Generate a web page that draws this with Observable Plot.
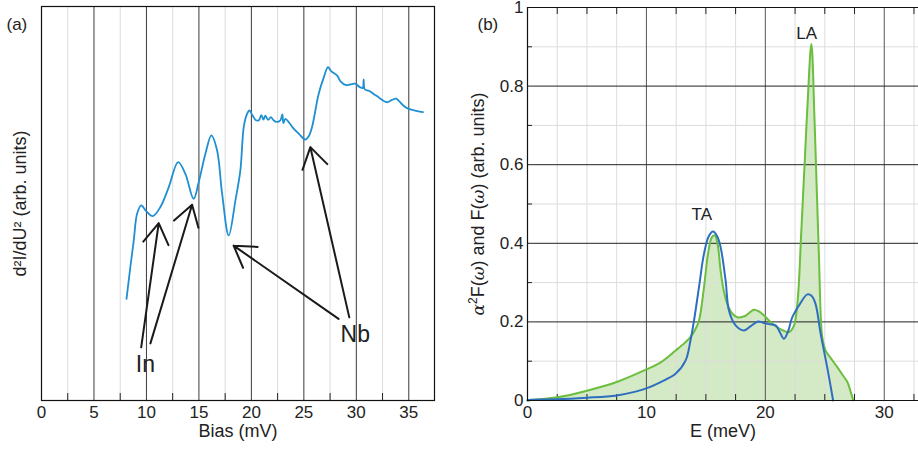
<!DOCTYPE html>
<html><head><meta charset="utf-8">
<script src="https://cdn.jsdelivr.net/npm/d3@7"></script>
<script src="https://cdn.jsdelivr.net/npm/@observablehq/plot@0.6"></script>
<style>
body{margin:0;background:#fff;}
#wrap{position:relative;width:918px;height:451px;overflow:hidden;background:#fff;}
#a,#b{position:absolute;top:0;}
#a{left:0;} #b{left:460px;}
</style></head><body><div id="wrap"><div id="a"></div><div id="b"></div></div>
<script>
// ---------- Panel (a): tunneling spectrum ----------
const biasV = [8.10, 8.45, 8.79, 9.11, 9.50, 10.0, 10.60, 11.33, 12.12, 13.02, 13.71, 14.50, 14.98, 15.62, 16.19, 16.73, 17.21, 17.84, 18.48, 18.95, 19.27, 19.55, 19.81, 20.1, 20.4, 20.70, 20.95, 21.15, 21.33, 21.6, 21.85, 22.12, 22.4, 22.76, 22.95, 23.05, 23.24, 23.6, 24.03, 24.6, 25.14, 25.45, 25.78, 26.41, 26.9, 27.30, 27.6, 28.16, 28.5, 28.95, 29.4, 29.90, 30.3, 30.6, 30.7, 30.8, 31.2, 31.65, 32.0, 32.4, 32.92, 33.4, 33.8, 34.03, 34.5, 34.98, 35.6, 36.35];
const d2I = [25.8, 33.5, 40.6, 47.4, 49.5, 48.0, 46.8, 49.1, 54.1, 60.5, 57.5, 51.2, 55.4, 62.6, 67.3, 63.5, 52.5, 41.9, 50.8, 58.4, 69.4, 72.5, 73.6, 72.4, 71.2, 71.1, 72.4, 71.3, 72.3, 71.2, 71.9, 71.1, 70.7, 71.1, 72.6, 70.4, 71.5, 70.5, 69.0, 67.5, 66.2, 67.0, 69.4, 77.8, 82.0, 84.6, 83.6, 82.5, 81.0, 80.1, 80.2, 80.4, 79.6, 79.3, 81.5, 79.0, 78.6, 77.8, 77.2, 76.4, 75.7, 76.3, 76.6, 76.1, 74.8, 74.0, 73.6, 73.2];
const biasMajor = [0, 5, 10, 15, 20, 25, 30, 35];
const biasMinor = [2.5, 7.5, 12.5, 17.5, 22.5, 27.5, 32.5];
// arrows: start (label end) -> tip (feature)
const arrowX1 = [9.50, 10.38, 28.31, 29.33];
const arrowY1 = [13.5, 14.5, 20.7, 21.1];
const arrowX2 = [11.17, 14.35, 18.31, 25.62];
const arrowY2 = [45.0, 49.7, 39.3, 64.3];
const noteText = ["In", "Nb"];
const noteX = [9.9, 29.9];
const noteY = [9.1, 16.8];

// ---------- Panel (b): spectral functions ----------
const greenE = [0, 0.3, 2.5, 5.0, 7.5, 10.0, 11.2, 12.45, 13.2, 13.7, 14.1, 14.42, 14.84, 15.18, 15.5, 15.75, 16.0, 16.24, 16.5, 16.8, 17.2, 17.65, 18.3, 19.05, 19.5, 19.9, 20.5, 21.0, 21.5, 22.0, 22.4, 22.6, 22.8, 23.0, 23.3, 23.55, 23.87, 24.14, 24.5, 24.79, 25.07, 25.5, 26.05, 26.5, 26.9, 27.2, 27.4];
const greenF = [0, 0.001, 0.008, 0.025, 0.047, 0.079, 0.097, 0.127, 0.146, 0.161, 0.180, 0.203, 0.288, 0.373, 0.415, 0.420, 0.395, 0.330, 0.28, 0.246, 0.222, 0.212, 0.215, 0.231, 0.226, 0.216, 0.198, 0.186, 0.178, 0.174, 0.19, 0.22, 0.288, 0.415, 0.60, 0.754, 0.907, 0.712, 0.373, 0.161, 0.127, 0.108, 0.085, 0.065, 0.047, 0.02, 0];
const blueE = [0, 0.3, 2.5, 5.0, 7.5, 9.0, 10.0, 11.2, 12.45, 13.3, 13.7, 14.0, 14.42, 14.84, 15.26, 15.6, 15.95, 16.24, 16.66, 16.94, 17.5, 18.2, 18.8, 19.4, 19.8, 20.17, 20.87, 21.2, 21.57, 21.9, 22.27, 22.9, 23.53, 23.9, 24.22, 24.65, 25.2, 25.7];
const blueF = [0, 0.002, 0.003, 0.007, 0.013, 0.022, 0.031, 0.047, 0.068, 0.102, 0.152, 0.203, 0.288, 0.373, 0.419, 0.430, 0.418, 0.39, 0.305, 0.229, 0.191, 0.178, 0.19, 0.201, 0.198, 0.195, 0.191, 0.175, 0.157, 0.175, 0.212, 0.245, 0.270, 0.266, 0.246, 0.170, 0.085, 0];
const eMajor = [0, 10, 20, 30];
const eMinor = [2.5, 5, 7.5, 12.5, 15, 17.5, 22.5, 25, 27.5, 32.5];
const fMajor = [0, 0.2, 0.4, 0.6, 0.8, 1];
const fMinor = [0.1, 0.3, 0.5, 0.7, 0.9];
const peakText = ["TA", "LA"];
const peakE = [14.66, 23.47];
const peakF = [0.473, 0.933];

const FONT = '"Liberation Sans", Arial, Helvetica, sans-serif';
const spec = biasV.map((v, i) => ({v, s: d2I[i]}));
const arrows = arrowX1.map((x1, i) => ({x1, y1: arrowY1[i], x2: arrowX2[i], y2: arrowY2[i]}));
const notes = noteText.map((t, i) => ({t, x: noteX[i], y: noteY[i]}));
const green = greenE.map((e, i) => ({e, f: greenF[i]}));
const blue = blueE.map((e, i) => ({e, f: blueF[i]}));
const peaks = peakText.map((t, i) => ({t, e: peakE[i], f: peakF[i]}));
const blank = () => "";

const left = Plot.plot({
  width: 460, height: 451, marginLeft: 41, marginRight: 26, marginTop: 6, marginBottom: 51,
  style: {fontFamily: FONT, fontSize: "17px", color: "#222", background: "transparent", overflow: "visible"},
  x: {domain: [0, 37.45], label: null},
  y: {domain: [0, 100], axis: null, label: null},
  marks: [
    Plot.gridX(biasMinor, {stroke: "#dcdcdc", strokeOpacity: 1}),
    Plot.gridX(biasMajor, {stroke: "#3a3a3a", strokeOpacity: 1}),
    Plot.axisX(biasMinor, {tickSize: -7, tickFormat: blank, label: null, stroke: "#222"}),
    Plot.axisX(biasMajor, {tickSize: 0, tickPadding: 5, label: null, fontSize: 17}),
    Plot.line(spec, {x: "v", y: "s", stroke: "#1e8fd2", strokeWidth: 1.8, curve: "catmull-rom"}),
    Plot.arrow(arrows, {x1: "x1", y1: "y1", x2: "x2", y2: "y2", stroke: "#1a1a1a", strokeWidth: 2, headLength: 18, headAngle: 64}),
    Plot.text(notes, {x: "x", y: "y", text: "t", fontSize: 23, fill: "#222"}),
    Plot.text(["(a)"], {frameAnchor: "top-left", dx: -35, dy: 11.5, textAnchor: "start", fontSize: 17, fill: "#222"}),
    Plot.text(["d²I/dU² (arb. units)"], {frameAnchor: "left", textAnchor: "middle", rotate: -90, dx: -21, fontSize: 18, fill: "#222"}),
    Plot.text(["Bias (mV)"], {frameAnchor: "bottom", dy: 36, fontSize: 18, fill: "#222"}),
    Plot.frame({stroke: "#111", strokeWidth: 1.2})
  ]
});
document.getElementById("a").append(left);

const right = Plot.plot({
  width: 458, height: 451, marginLeft: 67, marginRight: 0, marginTop: 7, marginBottom: 51,
  style: {fontFamily: FONT, fontSize: "17px", color: "#222", background: "transparent", overflow: "visible"},
  x: {domain: [0, 32.88], label: null},
  y: {domain: [0, 1], label: null},
  marks: [
    Plot.areaY(green, {x: "e", y: "f", fill: "#d4e9c5", curve: "catmull-rom"}),
    Plot.gridX(eMinor, {stroke: "#dcdcdc", strokeOpacity: 1}),
    Plot.gridY(fMinor, {stroke: "#dcdcdc", strokeOpacity: 1}),
    Plot.gridX(eMajor, {stroke: "#555", strokeOpacity: 1}),
    Plot.gridY(fMajor, {stroke: "#222", strokeOpacity: 1}),
    Plot.axisX(eMinor, {tickSize: -6, tickFormat: blank, label: null, stroke: "#222"}),
    Plot.axisX(eMinor, {anchor: "top", tickSize: -6, tickFormat: blank, label: null, stroke: "#222"}),
    Plot.axisY(fMinor, {tickSize: -5, tickFormat: blank, label: null, stroke: "#222"}),
    Plot.axisX(eMajor, {tickSize: 0, tickPadding: 5, label: null, fontSize: 17}),
    Plot.axisY(fMajor, {tickSize: 0, tickPadding: 4, label: null, fontSize: 17, tickFormat: d => (d === 0 || d === 1) ? String(d) : d.toFixed(1)}),
    Plot.line(green, {x: "e", y: "f", stroke: "#6bbf3e", strokeWidth: 2, curve: "catmull-rom"}),
    Plot.line(blue, {x: "e", y: "f", stroke: "#2d6ec0", strokeWidth: 2, curve: "catmull-rom"}),
    Plot.ruleX([0], {stroke: "#111", strokeWidth: 1.2}),
    Plot.ruleY([0, 1], {stroke: "#111", strokeWidth: 1.2}),
    Plot.text(peaks, {x: "e", y: "f", text: "t", fontSize: 17, fill: "#222"}),
    Plot.text(["(b)"], {frameAnchor: "top-left", dx: -50, dy: 10.5, textAnchor: "start", fontSize: 17, fill: "#222"}),
    Plot.text(["α2F(ω) and F(ω) (arb. units)"], {frameAnchor: "left", textAnchor: "middle", rotate: -90, dx: -49, fontSize: 18, fill: "#222"}),
    Plot.text(["E (meV)"], {frameAnchor: "bottom", dy: 36, fontSize: 18, fill: "#222"})
  ]
});
document.getElementById("b").append(right);

// rich formatting for the y label of panel (b)
right.querySelectorAll("text").forEach(t => {
  if (t.textContent === "α2F(ω) and F(ω) (arb. units)") {
    const parts = [
      {s: "α", it: true}, {s: "2", sup: true}, {s: "F(", down: true}, {s: "ω", it: true},
      {s: ") and F("}, {s: "ω", it: true}, {s: ") (arb. units)"}
    ];
    while (t.firstChild) t.removeChild(t.firstChild);
    const ns = "http://www.w3.org/2000/svg";
    parts.forEach(p => {
      const ts = document.createElementNS(ns, "tspan");
      ts.textContent = p.s;
      if (p.it) { ts.setAttribute("font-style", "italic"); ts.setAttribute("font-family", '"DejaVu Serif", serif'); ts.setAttribute("font-size", "17"); }
      if (p.sup) { ts.setAttribute("font-size", "12"); ts.setAttribute("dy", "-7"); }
      if (p.down) { ts.setAttribute("dy", "7"); }
      t.appendChild(ts);
    });
  }
});
</script>
</body></html>
